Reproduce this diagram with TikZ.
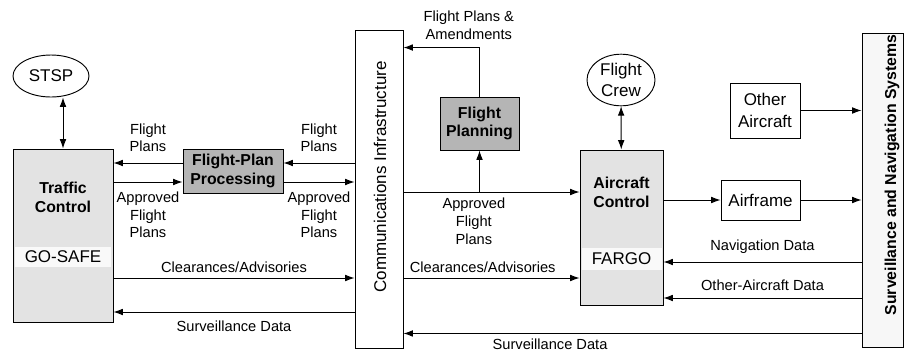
\documentclass[tikz,border=0pt]{standalone}
\usepackage{fontspec}
\setmainfont{Liberation Sans}
\usetikzlibrary{arrows.meta, positioning, shapes.geometric, calc}

\begin{document}
\begin{tikzpicture}[
x=0.03cm, y=-0.03cm,
every node/.style={align=center, font=\fontsize{14.5}{18.5}\selectfont, inner sep=1pt},
box/.style={draw, rectangle, line width=0.8pt},
oval/.style={draw, ellipse, line width=0.8pt},
title/.style={font=\fontsize{13.5}{16}\selectfont\bfseries},
tag/.style={font=\fontsize{12.5}{15}\selectfont, inner sep=2pt},
arrow/.style={-{Latex[length=2.8mm,width=2mm]}, line width=0.8pt},
dblarrow/.style={{Latex[length=2.8mm,width=2mm]}-{Latex[length=2.8mm,width=2mm]}, line width=0.8pt}
]
\useasboundingbox (0,0) rectangle (905,355);

% ground side
\node (stsp) [oval, minimum width=2.28cm, minimum height=1.26cm] at (51,76) {STSP};
\node (tc) [box, fill=gray!22, minimum width=3cm, minimum height=5.19cm] at (63,235.5) {};
\node (tcname) [title] at (63,197) {Traffic\\Control};
\node (gosafe) [fill=gray!5, minimum width=2.9cm, minimum height=0.6cm] at (63,257) {GO-SAFE};
\node (fpp) [box, fill=gray!58, minimum width=3cm, minimum height=1.32cm, title] at (233,171) {Flight-Plan\\Processing};
\node (comm) [box, fill=white, minimum width=1.44cm, minimum height=9.54cm] at (379,189) {};
\node (commname) [rotate=90] at (380,177) {Communications Infrastructure};

% air side
\node (fplan) [box, fill=gray!58, minimum width=2.37cm, minimum height=1.59cm, title] at (479.5,123.5) {Flight\\Planning};
\node (crew) [oval, minimum width=2.04cm, minimum height=1.2cm] at (621,80) {Flight\\Crew};
\node (aclt) [box, fill=gray!22, minimum width=2.49cm, minimum height=4.65cm] at (621.5,227.5) {};
\node (acname) [title] at (621.5,192) {Aircraft\\Control};
\node (fargo) [fill=gray!5, minimum width=2.4cm, minimum height=0.66cm] at (621.5,259) {FARGO};
\node (other) [box, minimum width=2.1cm, minimum height=1.65cm] at (765,110.5) {Other\\Aircraft};
\node (airframe) [box, minimum width=2.37cm, minimum height=1.2cm] at (760.5,200) {Airframe};
\node (surv) [box, fill=gray!6, minimum width=1.23cm, minimum height=9.42cm] at (882.5,190) {};
\node (survname) [rotate=90, title] at (892,175) {Surveillance and Navigation Systems};

% where the flows meet the boxes
\coordinate (fpin) at ($(fpp.east)+(0,-8)$);
\coordinate (fpout) at ($(fpp.west)+(0,-8)$);
\coordinate (apin) at ($(fpp.west)+(0,11)$);
\coordinate (apout) at ($(fpp.east)+(0,11)$);
\coordinate (tcclr) at ($(tc.east)+(0,42.5)$);
\coordinate (tcsurv) at ($(tc.east)+(0,76.5)$);
\coordinate (acap) at ($(aclt.west)+(0,-35.5)$);
\coordinate (acclr) at ($(aclt.west)+(0,50.5)$);
\coordinate (acnav) at ($(aclt.east)+(0,34.5)$);
\coordinate (acoth) at ($(aclt.east)+(0,70.5)$);
\coordinate (amend) at ($(comm.north east)+(0,18)$);
\coordinate (survout) at ($(surv.south west)+(0,-14)$);

\draw[dblarrow] (tc.north) -- (tc.north |- stsp.south);
\draw[arrow] (comm.west |- fpin) -- node[tag, above=7pt] {Flight\\Plans} (fpin);
\draw[arrow] (fpout) -- node[tag, above=7pt] {Flight\\Plans} (tc.east |- fpout);
\draw[arrow] (tc.east |- apin) -- node[tag, below=6pt] {Approved\\Flight\\Plans} (apin);
\draw[arrow] (apout) -- node[tag, below=6pt] {Approved\\Flight\\Plans} (comm.west |- apout);
\draw[arrow] (tcclr) -- node[tag, above=2.5pt] {Clearances/Advisories} (comm.west |- tcclr);
\draw[arrow] (comm.west |- tcsurv) -- node[tag, below=5pt] {Surveillance Data} (tcsurv);

\draw[arrow] (comm.east |- acap) -- node[tag, below=3pt, pos=0.4] {Approved\\Flight\\Plans} (acap);
\draw[arrow] (fplan.south |- acap) -- (fplan.south);
\draw[arrow] (fplan.north) |- node[tag, above=4.5pt, pos=0.57] {Flight Plans \&\\Amendments} (amend);
\draw[arrow] (comm.east |- acclr) -- node[tag, above=2.5pt, pos=0.45] {Clearances/Advisories} (acclr);
\draw[dblarrow] (crew) -- (aclt);
\draw[arrow] (aclt.east |- airframe) -- (airframe);
\draw[arrow] (airframe) -- (airframe -| surv.west);
\draw[arrow] (other) -- (other -| surv.west);
\draw[arrow] (surv.west |- acnav) -- node[tag, above=5pt] {Navigation Data} (acnav);
\draw[arrow] (surv.west |- acoth) -- node[tag, above=4pt] {Other-Aircraft Data} (acoth);
\draw[arrow] (survout) -- node[tag, below=2pt, pos=0.68] {Surveillance Data} (comm.east |- survout);

\end{tikzpicture}
\end{document}
